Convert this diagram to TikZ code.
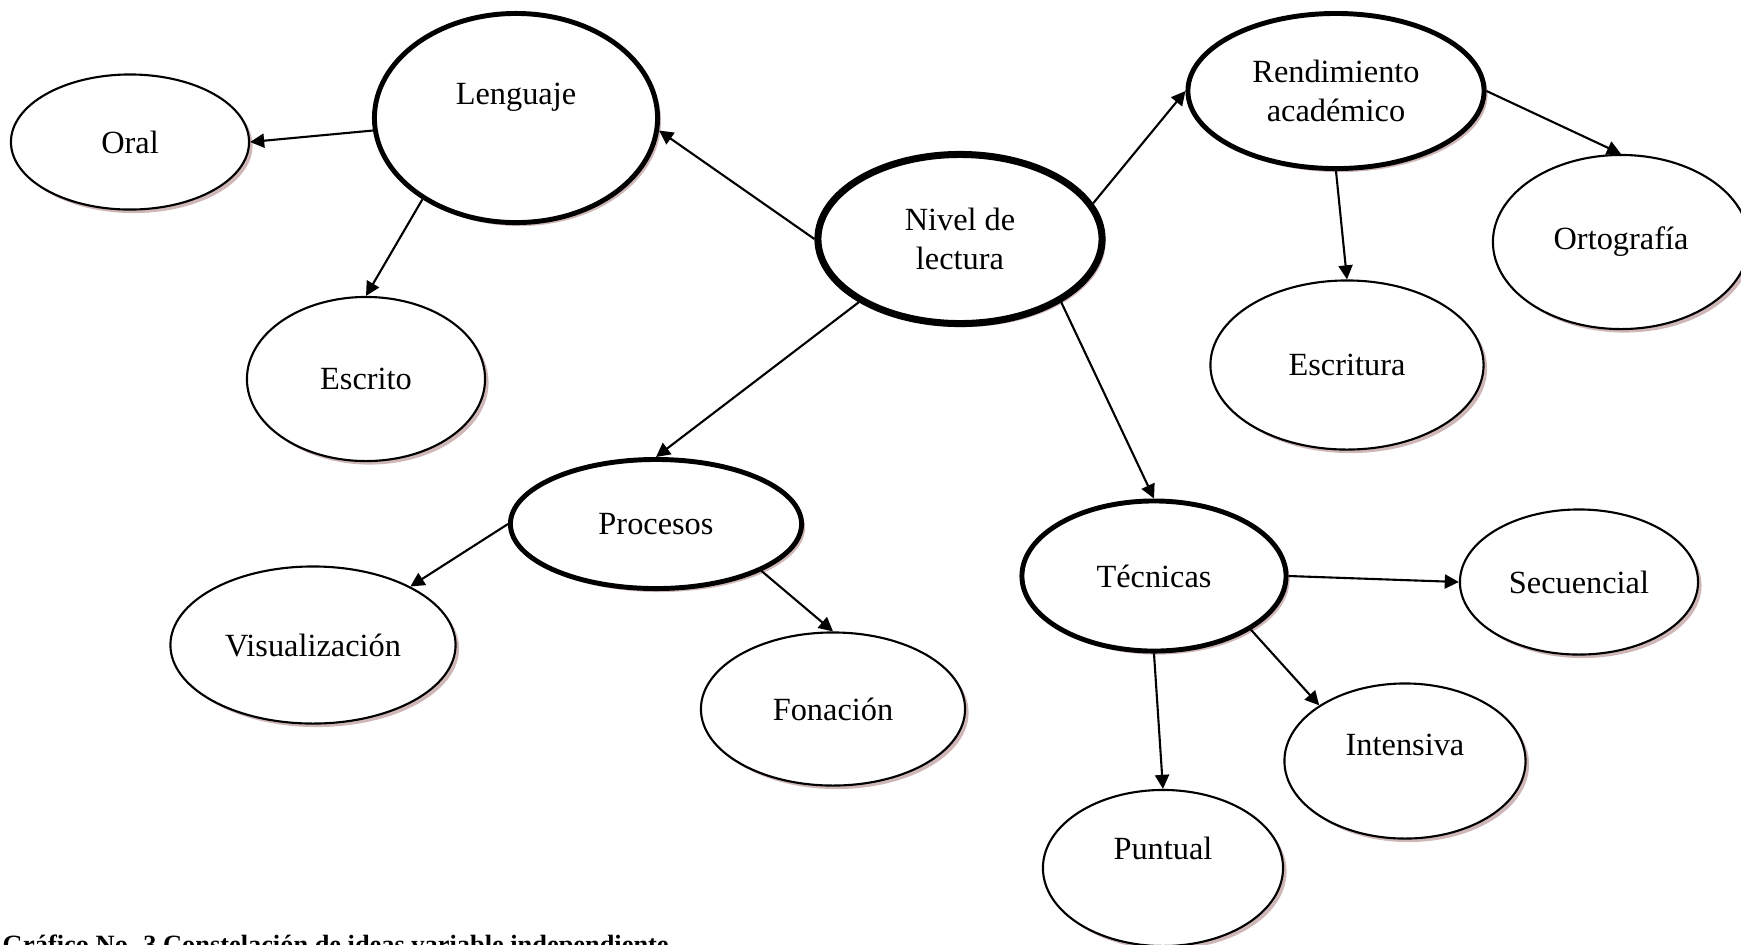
\documentclass[tikz,border=0pt]{standalone}
\usepackage{fontspec}
\setmainfont{Liberation Serif}
\usetikzlibrary{arrows.meta,shapes.geometric,shadows}
\definecolor{shadowred}{RGB}{150,95,95}
\tikzset{
  idea/.style = {ellipse, draw=black, fill=white, line width=0.6pt, inner sep=1pt,
    align=center, font=\fontsize{9.2}{11}\selectfont,
    drop shadow={shadow xshift=1pt, shadow yshift=-1pt, fill=shadowred, opacity=0.45}},
  mainidea/.style = {idea, line width=1.4pt},
  coreidea/.style = {idea, line width=2pt},
  link/.style = {line width=0.6pt, -{Triangle[length=4pt,width=4pt]}},
}

\begin{document}
\begin{tikzpicture}[x=0.01cm, y=-0.01cm]
  \useasboundingbox (0,0) rectangle (1741,944);

  % Centre
  \node[coreidea, minimum width=2.84cm, minimum height=1.69cm] (nivel) at (960,239) {Nivel de\\lectura};

  % Lenguaje branch
  \node[mainidea, minimum width=2.83cm, minimum height=2.09cm, text depth=14pt] (leng) at (516,118) {Lenguaje};
  \node[idea, minimum width=2.38cm, minimum height=1.35cm] (oral) at (130,142) {Oral};
  \node[idea, minimum width=2.38cm, minimum height=1.64cm] (escrito) at (366,379) {Escrito};

  % Rendimiento branch
  \node[mainidea, minimum width=2.96cm, minimum height=1.55cm] (rend) at (1336,91) {Rendimiento\\acad\'emico};
  \node[idea, minimum width=2.56cm, minimum height=1.74cm] (orto) at (1621,242) {Ortograf\'ia};
  \node[idea, minimum width=2.73cm, minimum height=1.69cm] (escritura) at (1347,365) {Escritura};

  % Procesos branch
  \node[mainidea, minimum width=2.91cm, minimum height=1.29cm] (proc) at (656,524) {Procesos};
  \node[idea, minimum width=2.85cm, minimum height=1.57cm] (visual) at (313,645) {Visualizaci\'on};
  \node[idea, minimum width=2.64cm, minimum height=1.53cm] (fonac) at (833,709) {Fonaci\'on};

  % Tecnicas branch
  \node[mainidea, minimum width=2.64cm, minimum height=1.50cm] (tec) at (1154,576) {T\'ecnicas};
  \node[idea, minimum width=2.38cm, minimum height=1.45cm] (secuen) at (1579,582) {Secuencial};
  \node[idea, minimum width=2.41cm, minimum height=1.55cm, text depth=9pt] (intens) at (1405,761) {Intensiva};
  \node[idea, minimum width=2.40cm, minimum height=1.56cm, text depth=11.5pt] (puntual) at (1163,868) {Puntual};

  % Links
  \draw[link] (nivel.west) -- (leng.-5);
  \draw[link] (leng.185) -- (oral.east);
  \draw[link] (leng.221) -- (escrito.north);
  \draw[link] (nivel.15) -- (rend.west);
  \draw[link] (rend.east) -- (orto.north);
  \draw[link] (rend.south) -- (escritura.north);
  \draw[link] (nivel.212) -- (proc.north);
  \draw[link] (nivel.-32) -- (tec.north);
  \draw[link] (proc.west) -- (visual.31);
  \draw[link] (proc.-24) -- (fonac.north);
  \draw[link] (tec.east) -- (secuen.west);
  \draw[link] (tec.south) -- (puntual.north);
  \draw[link] (tec.-29) -- (intens.147);

  % Caption
  \node[anchor=base west, inner sep=0pt, font=\fontsize{7.5}{9}\selectfont\bfseries] (caption) at (2,953)
    {Gr\'afico No. 3 Constelaci\'on de ideas variable independiente};
\end{tikzpicture}
\end{document}
